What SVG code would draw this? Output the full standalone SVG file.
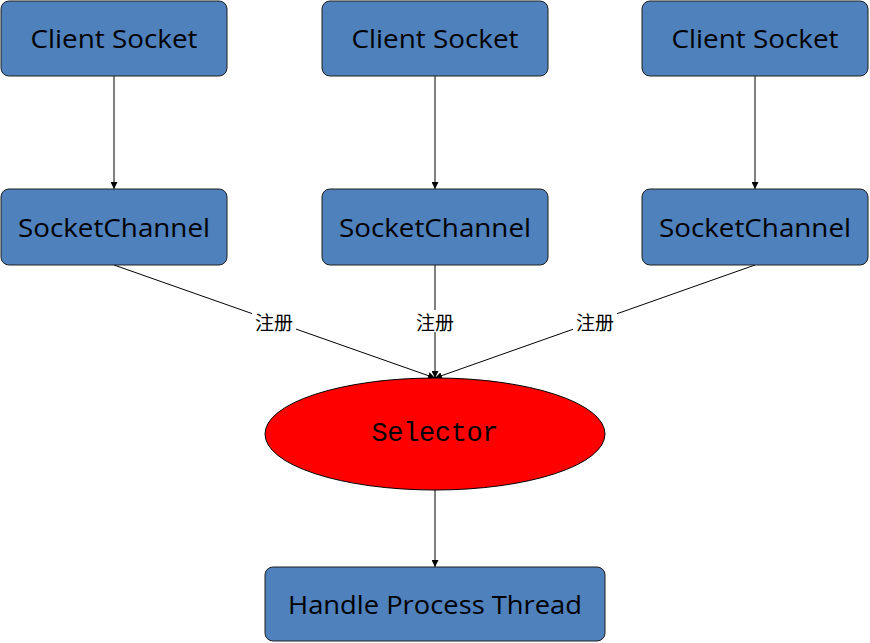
<svg xmlns="http://www.w3.org/2000/svg" width="870" height="643" viewBox="0 0 870 643">
<defs>
<style>
.box{fill:#4f81bd;stroke:#1f1f1f;stroke-width:1}
.t{font-family:"Open Sans","Liberation Sans",sans-serif;font-size:26px;fill:#000;text-anchor:middle;dominant-baseline:central}
.ln{stroke:#000;stroke-width:1;fill:none;marker-end:url(#ah)}
.lbl{font-family:"Noto Sans CJK SC",sans-serif;font-size:19px;fill:#000;text-anchor:middle;dominant-baseline:central}
</style>
<marker id="ah" viewBox="0 0 10 10" refX="10" refY="5" markerWidth="7" markerHeight="7" markerUnits="userSpaceOnUse" orient="auto">
<path d="M0,0 L10,5 L0,10 z" fill="#000"/>
</marker>
</defs>
<rect width="870" height="643" fill="#fff"/>
<g id="connectors">
<line class="ln" x1="114" y1="76" x2="114" y2="189"/>
<line class="ln" x1="435" y1="76" x2="435" y2="189"/>
<line class="ln" x1="755" y1="76" x2="755" y2="189"/>
<line class="ln" x1="114" y1="265" x2="435" y2="378"/>
<line class="ln" x1="435" y1="265" x2="435" y2="378" stroke="#777"/>
<line class="ln" x1="755" y1="265" x2="435" y2="378"/>
<line class="ln" x1="435" y1="490" x2="435" y2="567"/>
<rect x="252" y="310" width="44" height="22" fill="#fff"/>
<rect x="413" y="310" width="44" height="22" fill="#fff"/>
<rect x="573" y="310" width="44" height="22" fill="#fff"/>
<text class="lbl" x="274" y="321">注册</text>
<text class="lbl" x="435" y="321">注册</text>
<text class="lbl" x="595" y="321">注册</text>
</g>
<g id="cs1"><rect class="box" x="1" y="1" width="226" height="75" rx="8"/><text class="t" x="114" y="38" textLength="167" lengthAdjust="spacingAndGlyphs">Client Socket</text></g>
<g id="cs2"><rect class="box" x="322" y="1" width="226" height="75" rx="8"/><text class="t" x="435" y="38" textLength="167" lengthAdjust="spacingAndGlyphs">Client Socket</text></g>
<g id="cs3"><rect class="box" x="642" y="1" width="226" height="75" rx="8"/><text class="t" x="755" y="38" textLength="167" lengthAdjust="spacingAndGlyphs">Client Socket</text></g>
<g id="sc1"><rect class="box" x="1" y="189" width="226" height="76" rx="8"/><text class="t" x="114" y="227" textLength="192" lengthAdjust="spacingAndGlyphs">SocketChannel</text></g>
<g id="sc2"><rect class="box" x="322" y="189" width="226" height="76" rx="8"/><text class="t" x="435" y="227" textLength="192" lengthAdjust="spacingAndGlyphs">SocketChannel</text></g>
<g id="sc3"><rect class="box" x="642" y="189" width="226" height="76" rx="8"/><text class="t" x="755" y="227" textLength="192" lengthAdjust="spacingAndGlyphs">SocketChannel</text></g>
<g id="selector"><ellipse cx="435" cy="434" rx="170" ry="56" fill="#ff0000" stroke="#000" stroke-width="1"/><text x="435" y="434" font-family="Liberation Mono,monospace" font-size="27" text-anchor="middle" dominant-baseline="central" fill="#000" textLength="127">Selector</text></g>
<g id="handle"><rect class="box" x="265" y="567" width="340" height="74" rx="8"/><text class="t" x="435" y="604" textLength="294" lengthAdjust="spacingAndGlyphs">Handle Process Thread</text></g>
</svg>
